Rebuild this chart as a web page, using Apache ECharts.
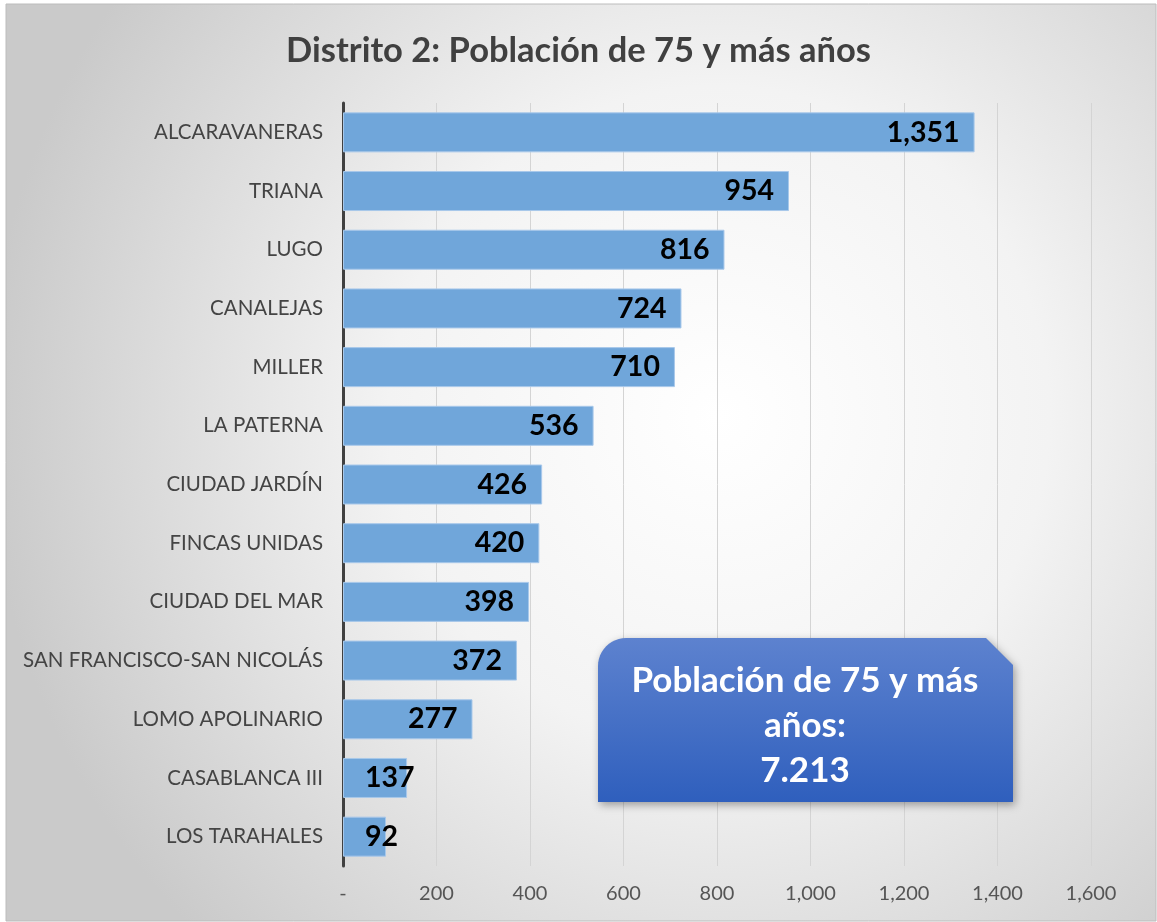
<!DOCTYPE html>
<html>
<head>
<meta charset="utf-8">
<script src="https://cdn.jsdelivr.net/npm/echarts@6/dist/echarts.min.js"></script>
<style>
  html, body { margin: 0; padding: 0; background: #fff; }
  #chart { width: 1157px; height: 922px; }
</style>
</head>
<body>
<div id="chart"></div>
<script>
// Chart data
const categories = [
  "ALCARAVANERAS", "TRIANA", "LUGO", "CANALEJAS", "MILLER", "LA PATERNA",
  "CIUDAD JARDÍN", "FINCAS UNIDAS", "CIUDAD DEL MAR", "SAN FRANCISCO-SAN NICOLÁS",
  "LOMO APOLINARIO", "CASABLANCA III", "LOS TARAHALES"
];
const values = [1351, 954, 816, 724, 710, 536, 426, 420, 398, 372, 277, 137, 92];
const titleText = "Distrito 2: Población de 75 y más años";
const boxLines = ["Población de 75 y más", "años:", "7.213"];

const FONT = "Lato, 'Liberation Sans', sans-serif";

function fmt(v) {
  return v.toLocaleString("en-US");
}

// Callout box outline: rounded top-left corner, snipped top-right corner
function calloutPoints(x0, y0, x1, y1, r, snip) {
  const pts = [];
  for (let i = 0; i <= 12; i++) {
    const a = Math.PI + (i / 12) * (Math.PI / 2);
    pts.push([x0 + r + r * Math.cos(a), y0 + r + r * Math.sin(a)]);
  }
  pts.push([x1 - snip, y0], [x1, y0 + snip], [x1, y1], [x0, y1]);
  return pts;
}

const chart = echarts.init(document.getElementById("chart"), null, { renderer: "canvas" });

const barData = values.map(function (v) {
  const item = { value: v };
  // short bars: Excel pushes the label past the bar start
  if (v < 200) {
    item.label = { position: "insideLeft", distance: 22 };
  }
  return item;
});

const option = {
  animation: false,
  backgroundColor: "#ffffff",
  title: {
    text: titleText,
    left: "center",
    top: 28,
    textStyle: { fontFamily: FONT, fontSize: 34.5, fontWeight: "bold", color: "#404040" },
  },
  grid: { left: 343, right: 66, top: 103, bottom: 56 },
  xAxis: {
    type: "value",
    min: 0,
    max: 1600,
    interval: 200,
    axisLine: { show: false },
    axisTick: { show: false },
    splitLine: { lineStyle: { color: "#d4d4d4", width: 1 } },
    axisLabel: {
      margin: 18,
      fontFamily: FONT,
      fontSize: 20,
      color: "#555",
      formatter: function (v) { return v === 0 ? "-" : fmt(v); },
    },
  },
  yAxis: {
    type: "category",
    inverse: true,
    data: categories,
    axisLine: { show: true, lineStyle: { color: "#404040", width: 3 } },
    axisTick: { show: false },
    axisLabel: { margin: 20, fontFamily: FONT, fontSize: 20.5, color: "#444" },
  },
  series: [
    {
      type: "bar",
      data: barData,
      barWidth: 40,
      itemStyle: { color: "#70a6da", borderColor: "#a8c8ea", borderWidth: 1 },
      label: {
        show: true,
        position: "insideRight",
        distance: 15,
        fontFamily: FONT,
        fontSize: 28.5,
        fontWeight: "bold",
        color: "#000",
        formatter: function (p) { return fmt(p.value); },
      },
      z: 3,
    },
  ],
  graphic: [
    {
      type: "rect",
      z: -10,
      silent: true,
      shape: { x: 6, y: 4, width: 1150, height: 917 },
      style: {
        fill: new echarts.graphic.RadialGradient(0.62, 0.45, 0.8, [
          { offset: 0, color: "#ffffff" },
          { offset: 0.45, color: "#f3f3f3" },
          { offset: 1, color: "#cacaca" },
        ]),
        stroke: "#bcbcbc",
        lineWidth: 1,
      },
    },
    {
      type: "polygon",
      z: 20,
      silent: true,
      shape: { points: calloutPoints(598, 638, 1013, 802, 28, 27) },
      style: {
        fill: new echarts.graphic.LinearGradient(0, 0, 0, 1, [
          { offset: 0, color: "#5d82cf" },
          { offset: 1, color: "#2f5fbd" },
        ]),
        shadowBlur: 8,
        shadowOffsetX: 2,
        shadowOffsetY: 3,
        shadowColor: "rgba(0,0,0,0.35)",
      },
    },
    {
      type: "text",
      z: 21,
      silent: true,
      x: 805,
      y: 658,
      style: {
        text: boxLines.join("\n"),
        align: "center",
        verticalAlign: "top",
        fontFamily: FONT,
        fontSize: 35,
        fontWeight: "bold",
        lineHeight: 45,
        fill: "#ffffff",
      },
    },
  ],
};

chart.setOption(option);
</script>
</body>
</html>
